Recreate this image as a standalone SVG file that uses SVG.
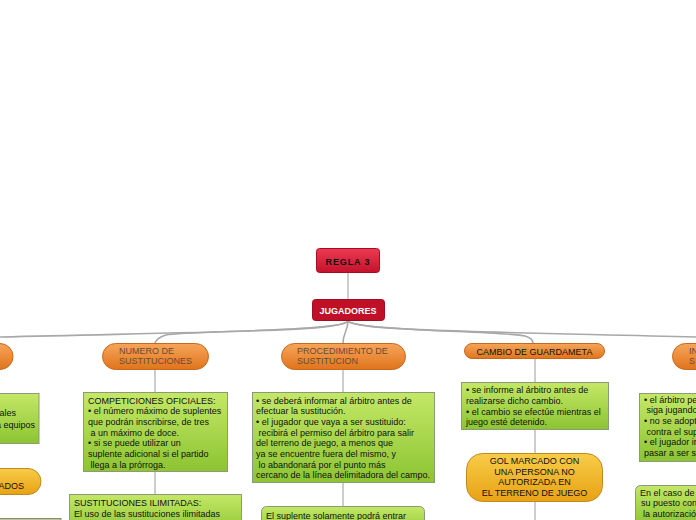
<svg xmlns="http://www.w3.org/2000/svg" width="696" height="520" viewBox="0 0 696 520">
<defs>
<linearGradient id="gRed" x1="0" y1="0" x2="0" y2="1"><stop offset="0" stop-color="#ee3a52"/><stop offset="1" stop-color="#c4122c"/></linearGradient>
<linearGradient id="gOr" x1="0" y1="0" x2="0" y2="1"><stop offset="0" stop-color="#f6a55a"/><stop offset="1" stop-color="#e0741c"/></linearGradient>
<linearGradient id="gGr" x1="0" y1="0" x2="0" y2="1"><stop offset="0" stop-color="#c4e866"/><stop offset="1" stop-color="#8cc432"/></linearGradient>
<linearGradient id="gYe" x1="0" y1="0" x2="0" y2="1"><stop offset="0" stop-color="#f8cc48"/><stop offset="1" stop-color="#e8a214"/></linearGradient>
</defs>
<style>
.t{font-family:"Liberation Sans",Arial,sans-serif;font-size:9px;fill:#111}
.tg{font-family:"Liberation Sans",Arial,sans-serif;font-size:9px;fill:#6a4a32}
.or{fill:url(#gOr);stroke:#c8681e;stroke-width:1}
.gr{fill:url(#gGr);stroke:#8c9a78;stroke-width:1}
.ye{fill:url(#gYe);stroke:#c08a20;stroke-width:1}
.c{fill:none;stroke:#a8a8a8;stroke-width:1.6}
.v{fill:none;stroke:#9a9a9a;stroke-width:1}
</style>
<rect width="696" height="520" fill="#fff"/>
<g id="connectors">
<line class="v" x1="348" y1="273" x2="348" y2="299"/>
<path class="c" d="M348,321 C342,331 250,331 0,337"/>
<path class="c" d="M348,321 C344,331 185,331 166,335 C159,337 156,340 155,343"/>
<path class="c" d="M348,321 C348,331 343,333 343,343"/>
<path class="c" d="M348,321 C354,331 505,331 525,336 C531,338 533,340 533,343"/>
<path class="c" d="M348,321 C356,331 500,332 696,337"/>
<line class="v" x1="155" y1="369" x2="155" y2="392"/>
<line class="v" x1="155" y1="471" x2="155" y2="494"/>
<line class="v" x1="343" y1="369" x2="343" y2="392"/>
<line class="v" x1="343" y1="482" x2="343" y2="506"/>
<line class="v" x1="535" y1="358" x2="535" y2="382"/>
<line class="v" x1="535" y1="429" x2="535" y2="453"/>
<line class="v" x1="535" y1="501" x2="535" y2="520"/>
</g>
<g id="regla3">
<rect x="316.5" y="248.5" width="63" height="24" rx="3" fill="url(#gRed)" stroke="#a80c22"/>
<text x="348" y="264.5" text-anchor="middle" style="font-family:'Liberation Sans',Arial,sans-serif;font-size:9px;font-weight:bold;letter-spacing:0.9px;fill:#111">REGLA 3</text>
</g>
<g id="jugadores">
<rect x="312.5" y="299.5" width="72" height="21" rx="3" fill="#c01028" stroke="#a00c20"/>
<text x="348" y="313.5" text-anchor="middle" style="font-family:'Liberation Sans',Arial,sans-serif;font-size:9px;font-weight:bold;fill:#fff">JUGADORES</text>
</g>
<g id="left-topic">
<rect class="or" x="-40" y="343.5" width="53" height="26" rx="13"/>
</g>
<g id="left-box">
<rect class="gr" x="-60" y="393.5" width="99" height="50"/>
<text class="t" x="16" y="416" text-anchor="end">ales</text>
<text class="t" x="35" y="428" text-anchor="end">a equipos</text>
</g>
<g id="left-ados">
<rect class="ye" x="-60" y="468.5" width="101" height="26" rx="13"/>
<text class="t" x="24" y="488.5" text-anchor="end">ADOS</text>
</g>
<g id="left-bottom">
<rect x="-10" y="518.5" width="71" height="12" fill="#b8c890" stroke="#8a8a78"/>
</g>
<g id="numero">
<rect class="or" x="102.5" y="343.5" width="106" height="26" rx="13"/>
<text class="tg" x="119" y="354">NUMERO DE</text>
<text class="tg" x="119" y="364">SUSTITUCIONES</text>
</g>
<g id="numero-box">
<rect class="gr" x="83.5" y="392.5" width="144" height="79"/>
<text class="t" x="88" y="403.5">COMPETICIONES OFICIALES:</text>
<text class="t" x="88" y="414">• el número máximo de suplentes</text>
<text class="t" x="88" y="425">que podrán inscribirse, de tres</text>
<text class="t" x="90.5" y="435.5">a un máximo de doce.</text>
<text class="t" x="88" y="446">• si se puede utilizar un</text>
<text class="t" x="88" y="457">suplente adicional si el partido</text>
<text class="t" x="90.5" y="467.5">llega a la prórroga.</text>
</g>
<g id="ilimitadas">
<rect class="gr" x="69.5" y="494.5" width="172" height="40"/>
<text class="t" x="74" y="505.5">SUSTITUCIONES ILIMITADAS:</text>
<text class="t" x="74" y="516.5">El uso de las sustituciones ilimitadas</text>
</g>
<g id="procedimiento">
<rect class="or" x="281.5" y="343.5" width="124" height="26" rx="13"/>
<text class="tg" x="297" y="354">PROCEDIMIENTO DE</text>
<text class="tg" x="297" y="364">SUSTITUCION</text>
</g>
<g id="proc-box">
<rect class="gr" x="252.5" y="392.5" width="182" height="90"/>
<text class="t" x="256" y="403.5">• se deberá informar al árbitro antes de</text>
<text class="t" x="256" y="414">efectuar la sustitución.</text>
<text class="t" x="256" y="424.5">• el jugador que vaya a ser sustituido:</text>
<text class="t" x="258.5" y="435.5">recibirá el permiso del árbitro para salir</text>
<text class="t" x="256" y="446">del terreno de juego, a menos que</text>
<text class="t" x="256" y="456.5">ya se encuentre fuera del mismo, y</text>
<text class="t" x="258.5" y="467.5">lo abandonará por el punto más</text>
<text class="t" x="256" y="478">cercano de la línea delimitadora del campo.</text>
</g>
<g id="suplente">
<rect class="gr" x="261.5" y="506.5" width="163" height="30" rx="5"/>
<text class="t" x="266" y="518.5">El suplente solamente podrá entrar</text>
</g>
<g id="cambio">
<rect class="or" x="464.5" y="343.5" width="140" height="15" rx="7.5"/>
<text class="t" x="534.5" y="354.5" text-anchor="middle">CAMBIO DE GUARDAMETA</text>
</g>
<g id="cambio-box">
<rect class="gr" x="461.5" y="382.5" width="147" height="47"/>
<text class="t" x="466" y="393">• se informe al árbitro antes de</text>
<text class="t" x="466" y="404">realizarse dicho cambio.</text>
<text class="t" x="466" y="414.5">• el cambio se efectúe mientras el</text>
<text class="t" x="466" y="425">juego esté detenido.</text>
</g>
<g id="gol">
<rect class="ye" x="466.5" y="453.5" width="136" height="48" rx="16"/>
<text class="t" x="534.5" y="464" text-anchor="middle">GOL MARCADO CON</text>
<text class="t" x="534.5" y="474.5" text-anchor="middle">UNA PERSONA NO</text>
<text class="t" x="534.5" y="485" text-anchor="middle">AUTORIZADA EN</text>
<text class="t" x="534.5" y="495.5" text-anchor="middle">EL TERRENO DE JUEGO</text>
</g>
<g id="right-topic">
<rect class="or" x="672.5" y="343.5" width="60" height="26" rx="13"/>
<text class="tg" x="689" y="354">IN</text>
<text class="tg" x="689" y="364">S</text>
</g>
<g id="right-box">
<rect class="gr" x="639.5" y="393.5" width="80" height="68"/>
<text class="t" x="644" y="402.5">• el árbitro pe</text>
<text class="t" x="646.5" y="413">siga jugando</text>
<text class="t" x="644" y="424">• no se adopt</text>
<text class="t" x="646.5" y="434.5">contra el sup</text>
<text class="t" x="644" y="445">• el jugador in</text>
<text class="t" x="644" y="455.5">pasar a ser s</text>
</g>
<g id="right-bottom">
<rect class="gr" x="635.5" y="485.5" width="80" height="40" rx="5"/>
<text class="t" x="640" y="495.5">En el caso de</text>
<text class="t" x="641" y="506">su puesto con</text>
<text class="t" x="643" y="516.5">la autorizació</text>
</g>
</svg>
